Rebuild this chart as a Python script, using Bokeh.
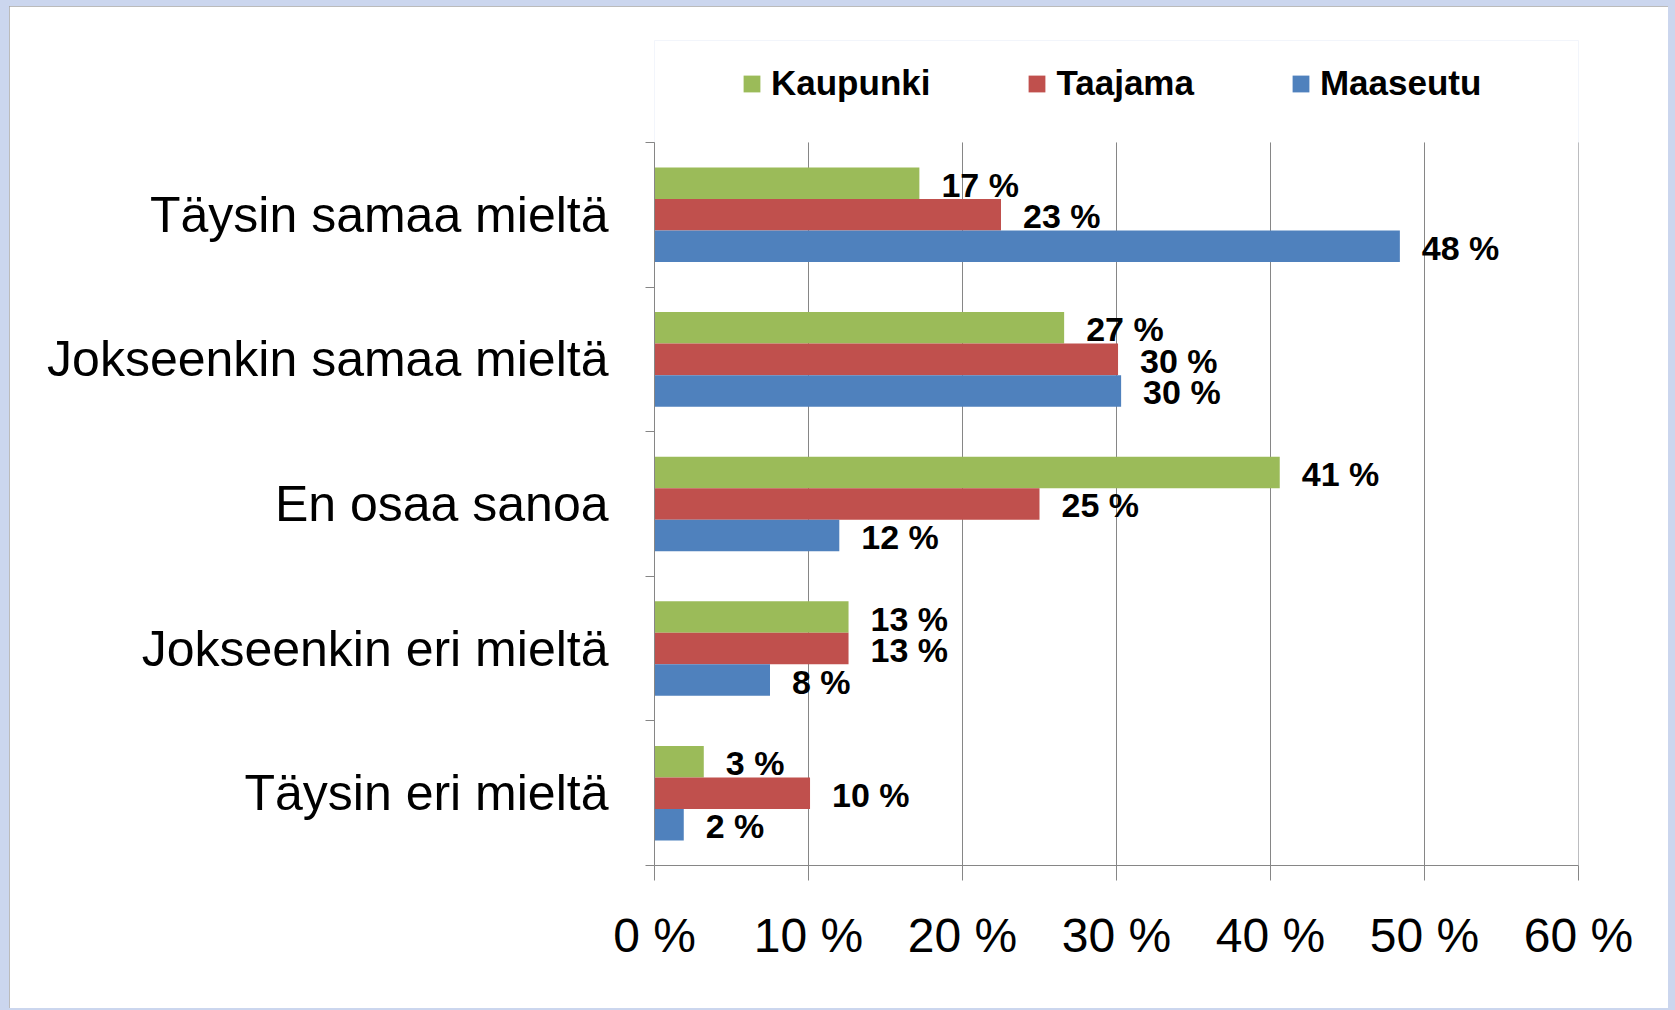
from bokeh.plotting import figure
from bokeh.models import ColumnDataSource, FixedTicker, Legend, LegendItem, Range1d, GlobalInlineStyleSheet
from bokeh.transform import dodge
from bokeh.core.properties import value
from bokeh.embed import file_html
from bokeh.resources import INLINE

# ---- data ----
categories = ["Täysin samaa mieltä", "Jokseenkin samaa mieltä", "En osaa sanoa",
              "Jokseenkin eri mieltä", "Täysin eri mieltä"]
series_names = ["Kaupunki", "Taajama", "Maaseutu"]
kaupunki = [17.2, 26.6, 40.6, 12.6, 3.2]
taajama = [22.5, 30.1, 25.0, 12.6, 10.1]
maaseutu = [48.4, 30.3, 12.0, 7.5, 1.9]
kaupunki_labels = ["17 %", "27 %", "41 %", "13 %", "3 %"]
taajama_labels = ["23 %", "30 %", "25 %", "13 %", "10 %"]
maaseutu_labels = ["48 %", "30 %", "12 %", "8 %", "2 %"]
x_ticks = [0, 10, 20, 30, 40, 50, 60]
x_tick_labels = ["0 %", "10 %", "20 %", "30 %", "40 %", "50 %", "60 %"]

colors = ["#9BBB59", "#C0504D", "#4F81BD"]
FONT = value("Liberation Sans")
GRID = "#868686"

n_cat = len(categories)
centers = [i + 0.5 for i in range(n_cat)]
bounds = [float(i) for i in range(n_cat + 1)]
TOP_SPACE = 0.705  # room above the categories for the legend

p = figure(width=1659, height=1002,
           x_range=Range1d(0, 60), y_range=Range1d(n_cat, -TOP_SPACE),
           output_backend="svg", toolbar_location=None,
           min_border_left=645, min_border_right=90,
           min_border_top=34, min_border_bottom=143,
           background_fill_color="white", border_fill_color="white")
p.outline_line_color = None
p.outline_line_alpha = 0
p.stylesheets = [GlobalInlineStyleSheet(
    css="html, body { background: #cbd6ee !important; } body { padding: 6px 0 0 9px !important; }")]
p.styles = {"outline": "2px solid #a4a4a4", "outline-offset": "-2px"}

# vertical grid lines limited to the category area
p.xgrid.grid_line_color = None
p.ygrid.grid_line_color = None
p.segment(x0=x_ticks, x1=x_ticks, y0=[0] * len(x_ticks), y1=[n_cat] * len(x_ticks),
          line_color=GRID, line_width=1)

bar_h = 0.218
offsets = [-bar_h, 0.0, bar_h]
data_sets = [(kaupunki, kaupunki_labels), (taajama, taajama_labels), (maaseutu, maaseutu_labels)]

items = []
for name, (vals, labs), col, off in zip(series_names, data_sets, colors, offsets):
    src = ColumnDataSource(dict(y=centers, x=vals, label=labs))
    r = p.hbar(y=dodge("y", off), left=0, right="x", height=bar_h, source=src,
               fill_color=col, line_color=None)
    p.text(x="x", y=dodge("y", off + 0.01), text="label", source=src,
           x_offset=22, text_baseline="middle", text_align="left",
           text_font=FONT, text_font_size="34px", text_font_style="bold",
           text_color="black")
    items.append(LegendItem(label=name, renderers=[r]))

# x axis
xa = p.xaxis[0]
xa.ticker = FixedTicker(ticks=x_ticks)
xa.major_label_overrides = {t: l for t, l in zip(x_ticks, x_tick_labels)}
xa.axis_line_color = GRID
xa.major_tick_line_color = GRID
xa.major_tick_out = 15
xa.major_tick_in = 0
xa.minor_tick_line_color = None
xa.major_label_standoff = 28
xa.major_label_text_font = "Liberation Sans"
xa.major_label_text_font_size = "48px"
xa.major_label_text_color = "black"

# y axis
ya = p.yaxis[0]
ya.bounds = (0, n_cat)
ya.ticker = FixedTicker(ticks=centers, minor_ticks=bounds)
ya.major_label_overrides = {c: n for c, n in zip(centers, categories)}
ya.axis_line_color = GRID
ya.major_tick_line_color = None
ya.major_tick_out = 0
ya.major_tick_in = 0
ya.minor_tick_line_color = GRID
ya.minor_tick_out = 9
ya.minor_tick_in = 0
ya.major_label_standoff = 37
ya.major_label_text_font = "Liberation Sans"
ya.major_label_text_font_size = "50px"
ya.major_label_text_color = "black"

legend = Legend(items=items, orientation="horizontal", location=(87, 762),
                glyph_width=21, glyph_height=21, label_standoff=9, spacing=96,
                label_text_font="Liberation Sans", label_text_font_size="35px",
                label_text_font_style="bold", label_text_color="black",
                border_line_color=None, background_fill_alpha=0,
                padding=0, margin=0)
p.add_layout(legend, "center")

open("out.html", "w").write(file_html(p, INLINE))
